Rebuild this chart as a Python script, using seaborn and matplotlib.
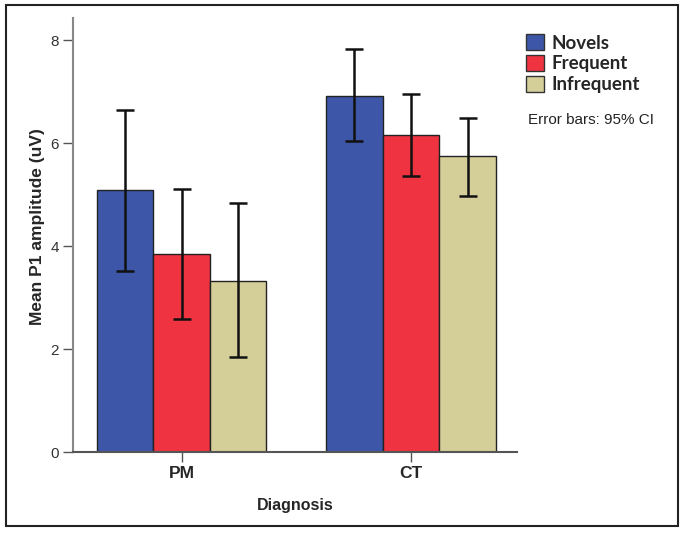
import pandas as pd
import numpy as np
import seaborn as sns
import matplotlib.pyplot as plt
from matplotlib.patches import Patch

# data
diagnosis = ["PM", "CT"]
stimulus = ["Novels", "Frequent", "Infrequent"]
novels_mean = [5.08, 6.92]
frequent_mean = [3.84, 6.16]
infrequent_mean = [3.33, 5.74]
novels_ci = [(3.51, 6.65), (6.04, 7.82)]
frequent_ci = [(2.58, 5.10), (5.37, 6.95)]
infrequent_ci = [(1.84, 4.83), (4.98, 6.49)]
bar_colors = ["#3d56a8", "#ef3340", "#d4cf99"]

sns.set_style("white")
plt.rcParams["font.family"] = ["Liberation Sans", "DejaVu Sans"]

# building the long table for seaborn
rows = []
for s, means in zip(stimulus, [novels_mean, frequent_mean, infrequent_mean]):
    for d, m in zip(diagnosis, means):
        rows.append({"Diagnosis": d, "Stimulus": s, "amp": m})
data = pd.DataFrame(rows)

fig = plt.figure(figsize=(6.85, 5.34), dpi=100)
ax = fig.add_axes([73 / 685, 1 - 452 / 534, 444 / 685, 434 / 534])

sns.barplot(data=data, x="Diagnosis", y="amp", hue="Stimulus",
            order=diagnosis, hue_order=stimulus, palette=bar_colors,
            width=0.74, errorbar=None, edgecolor="#222222", linewidth=1,
            saturation=1, legend=False, ax=ax)

# error bars at the bar centres seaborn used
for cont, cis in zip(ax.containers, [novels_ci, frequent_ci, infrequent_ci]):
    for bar, (lo, hi) in zip(cont, cis):
        xc = bar.get_x() + bar.get_width() / 2
        h = bar.get_height()
        ax.errorbar(xc, h, yerr=[[h - lo], [hi - h]], fmt="none",
                    ecolor="#111111", elinewidth=1.8, capsize=6.5, capthick=1.8)

ax.set_xlim(-0.473, 1.462)
ax.set_ylim(0, 8.43)
ax.set_yticks([0, 2, 4, 6, 8])
ax.set_yticklabels(["0", "2", "4", "6", "8"], fontsize=11, color="#333333")
ax.set_xticklabels(diagnosis, fontsize=12.5, fontweight="bold")
ax.tick_params(axis="both", direction="out", length=7, width=1, color="#555555",
               left=True, bottom=True, pad=3)
ax.tick_params(axis="x", pad=3)

for side in ["top", "right"]:
    ax.spines[side].set_visible(False)
ax.spines["left"].set_color("#888888")
ax.spines["left"].set_linewidth(1.5)
ax.spines["bottom"].set_color("#555555")
ax.spines["bottom"].set_linewidth(1.5)

ax.set_ylabel("Mean P1 amplitude (uV)", fontsize=12.5, fontweight="bold")
ax.yaxis.set_label_coords(-0.063, 0.52)
ax.set_xlabel("Diagnosis", fontsize=11.5, fontweight="bold")
ax.xaxis.set_label_coords(0.5, -0.105)

handles = [Patch(facecolor=c, edgecolor="#333333", linewidth=1) for c in bar_colors]
fig.legend(handles, stimulus, loc="upper left",
           bbox_to_anchor=(526 / 685, 1 - 34 / 534), frameon=False,
           prop={"family": ["Lato", "DejaVu Sans"], "weight": "bold", "size": 13.5},
           handlelength=0.95, handleheight=0.95, handletextpad=0.4,
           labelspacing=0.18, borderpad=0, borderaxespad=0)
fig.text(528 / 685, 1 - 120 / 534, "Error bars: 95% CI", fontsize=11,
         va="center", ha="left", color="#222222")

# frame round the whole figure
fig.patches.append(plt.Rectangle((6 / 685, 1 - 526 / 534), 672 / 685, 521 / 534,
                                 transform=fig.transFigure, fill=False,
                                 edgecolor="#222222", linewidth=1.5))

fig.savefig("out.png", dpi=100)
